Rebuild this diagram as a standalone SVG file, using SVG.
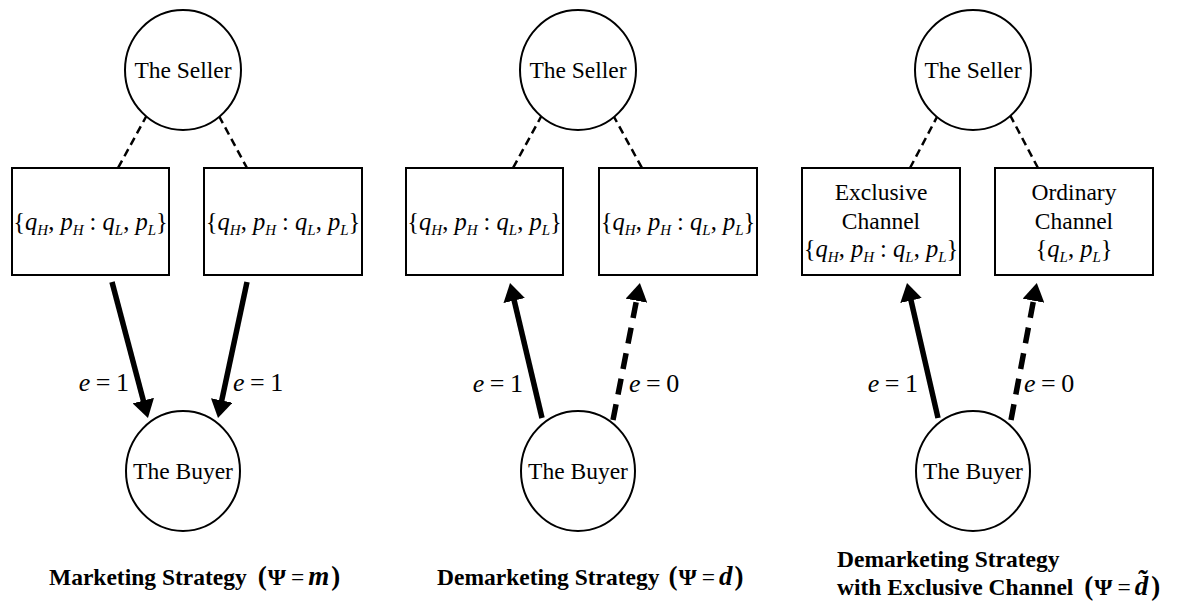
<svg xmlns="http://www.w3.org/2000/svg" width="1180" height="610" viewBox="0 0 1180 610">
<style>
.node{fill:#fff;stroke:#000;stroke-width:2}
.t{font-family:"Liberation Serif","Times New Roman",serif;font-size:23.5px;fill:#000}
.f{font-family:"Liberation Serif","Times New Roman",serif;font-size:24.5px;fill:#000}
.e{font-family:"Liberation Serif","Times New Roman",serif;font-size:26px;fill:#000;word-spacing:-1px}
.i{font-style:italic}
.s{font-size:15px;font-style:italic}
.cap{font-family:"Liberation Serif","Times New Roman",serif;font-size:23.5px;font-weight:bold;fill:#000}
.sd{stroke:#000;stroke-width:2.5;stroke-dasharray:8,5;fill:none}
.a{stroke:#000;stroke-width:5.5;fill:none}
.ad{stroke:#000;stroke-width:5.5;fill:none;stroke-dasharray:16,10}
</style>
<defs>
<marker id="ah" viewBox="0 0 18 22" refX="6" refY="11" markerWidth="18" markerHeight="22" markerUnits="userSpaceOnUse" orient="auto">
<path d="M0,0 L18,11 L0,22 z" fill="#000"/>
</marker>
</defs>

<g id="connectors">
<line class="sd" x1="147" y1="115" x2="118" y2="168"/>
<line class="sd" x1="219" y1="116" x2="247" y2="168"/>
<line class="sd" x1="542" y1="115" x2="513" y2="168"/>
<line class="sd" x1="613" y1="115" x2="642" y2="168"/>
<line class="sd" x1="938" y1="115" x2="910" y2="168"/>
<line class="sd" x1="1010" y1="115" x2="1038" y2="168"/>
<line class="a" x1="112" y1="282" x2="144.9" y2="406.4" marker-end="url(#ah)"/>
<line class="a" x1="247" y1="282" x2="220.5" y2="406.3" marker-end="url(#ah)"/>
<line class="a" x1="542" y1="418" x2="512.8" y2="294.7" marker-end="url(#ah)"/>
<line class="ad" x1="613" y1="420" x2="637.6" y2="294.8" marker-end="url(#ah)"/>
<line class="a" x1="938" y1="418" x2="909.7" y2="294.7" marker-end="url(#ah)"/>
<line class="ad" x1="1011" y1="420" x2="1034.6" y2="294.8" marker-end="url(#ah)"/>
<text class="e" x="129" y="391" text-anchor="end"><tspan class="i">e</tspan> = 1</text>
<text class="e" x="233" y="391"><tspan class="i">e</tspan> = 1</text>
<text class="e" x="523" y="392" text-anchor="end"><tspan class="i">e</tspan> = 1</text>
<text class="e" x="629" y="392"><tspan class="i">e</tspan> = 0</text>
<text class="e" x="918" y="392" text-anchor="end"><tspan class="i">e</tspan> = 1</text>
<text class="e" x="1024" y="392"><tspan class="i">e</tspan> = 0</text>
</g>

<g id="seller1"><ellipse class="node" cx="183" cy="70" rx="58" ry="60"/><text class="t" x="183" y="78" text-anchor="middle">The Seller</text></g>
<g id="seller2"><ellipse class="node" cx="578" cy="70" rx="58" ry="60"/><text class="t" x="578" y="78" text-anchor="middle">The Seller</text></g>
<g id="seller3"><ellipse class="node" cx="973" cy="70" rx="58" ry="60"/><text class="t" x="973" y="78" text-anchor="middle">The Seller</text></g>

<g id="buyer1"><ellipse class="node" cx="183" cy="471" rx="57" ry="60"/><text class="t" x="183" y="479" text-anchor="middle">The Buyer</text></g>
<g id="buyer2"><ellipse class="node" cx="578" cy="471" rx="57" ry="60"/><text class="t" x="578" y="479" text-anchor="middle">The Buyer</text></g>
<g id="buyer3"><ellipse class="node" cx="973" cy="471" rx="57" ry="60"/><text class="t" x="973" y="479" text-anchor="middle">The Buyer</text></g>

<g id="box1"><rect class="node" x="12" y="168" width="157" height="107"/>
<text class="f" x="90.5" y="230" text-anchor="middle">{<tspan class="i">q</tspan><tspan class="s" dy="5">H</tspan><tspan dy="-5">, </tspan><tspan class="i">p</tspan><tspan class="s" dy="5">H</tspan><tspan dy="-5"> : </tspan><tspan class="i">q</tspan><tspan class="s" dy="5">L</tspan><tspan dy="-5">, </tspan><tspan class="i">p</tspan><tspan class="s" dy="5">L</tspan><tspan dy="-5">}</tspan></text></g>
<g id="box2"><rect class="node" x="204" y="168" width="158" height="107"/>
<text class="f" x="283" y="230" text-anchor="middle">{<tspan class="i">q</tspan><tspan class="s" dy="5">H</tspan><tspan dy="-5">, </tspan><tspan class="i">p</tspan><tspan class="s" dy="5">H</tspan><tspan dy="-5"> : </tspan><tspan class="i">q</tspan><tspan class="s" dy="5">L</tspan><tspan dy="-5">, </tspan><tspan class="i">p</tspan><tspan class="s" dy="5">L</tspan><tspan dy="-5">}</tspan></text></g>
<g id="box3"><rect class="node" x="406" y="168" width="157" height="107"/>
<text class="f" x="484.5" y="230" text-anchor="middle">{<tspan class="i">q</tspan><tspan class="s" dy="5">H</tspan><tspan dy="-5">, </tspan><tspan class="i">p</tspan><tspan class="s" dy="5">H</tspan><tspan dy="-5"> : </tspan><tspan class="i">q</tspan><tspan class="s" dy="5">L</tspan><tspan dy="-5">, </tspan><tspan class="i">p</tspan><tspan class="s" dy="5">L</tspan><tspan dy="-5">}</tspan></text></g>
<g id="box4"><rect class="node" x="599" y="168" width="158" height="107"/>
<text class="f" x="678" y="230" text-anchor="middle">{<tspan class="i">q</tspan><tspan class="s" dy="5">H</tspan><tspan dy="-5">, </tspan><tspan class="i">p</tspan><tspan class="s" dy="5">H</tspan><tspan dy="-5"> : </tspan><tspan class="i">q</tspan><tspan class="s" dy="5">L</tspan><tspan dy="-5">, </tspan><tspan class="i">p</tspan><tspan class="s" dy="5">L</tspan><tspan dy="-5">}</tspan></text></g>
<g id="box5"><rect class="node" x="802" y="168" width="158" height="107"/>
<text class="t" x="881" y="200" text-anchor="middle">Exclusive</text>
<text class="t" x="881" y="229" text-anchor="middle">Channel</text>
<text class="f" x="881" y="257" text-anchor="middle">{<tspan class="i">q</tspan><tspan class="s" dy="5">H</tspan><tspan dy="-5">, </tspan><tspan class="i">p</tspan><tspan class="s" dy="5">H</tspan><tspan dy="-5"> : </tspan><tspan class="i">q</tspan><tspan class="s" dy="5">L</tspan><tspan dy="-5">, </tspan><tspan class="i">p</tspan><tspan class="s" dy="5">L</tspan><tspan dy="-5">}</tspan></text></g>
<g id="box6"><rect class="node" x="995" y="168" width="158" height="107"/>
<text class="t" x="1074" y="200" text-anchor="middle">Ordinary</text>
<text class="t" x="1074" y="229" text-anchor="middle">Channel</text>
<text class="f" x="1074" y="257" text-anchor="middle">{<tspan class="i">q</tspan><tspan class="s" dy="5">L</tspan><tspan dy="-5">, </tspan><tspan class="i">p</tspan><tspan class="s" dy="5">L</tspan><tspan dy="-5">}</tspan></text></g>

<g id="captions">
<text class="cap" x="49" y="585">Marketing Strategy <tspan font-size="27" dx="5">(</tspan><tspan dx="1">Ψ</tspan><tspan font-weight="normal" dx="5">=</tspan><tspan font-style="italic" font-size="27" dx="4">m</tspan><tspan font-size="27" dx="2">)</tspan></text>
<text class="cap" x="437" y="585">Demarketing Strategy <tspan font-size="27" dx="3">(</tspan><tspan dx="1">Ψ</tspan><tspan font-weight="normal" dx="5">=</tspan><tspan font-style="italic" font-size="27" dx="4">d</tspan><tspan font-size="27" dx="2">)</tspan></text>
<text class="cap" x="837" y="567">Demarketing Strategy</text>
<text class="cap" x="837" y="595">with Exclusive Channel <tspan font-size="27" dx="5">(</tspan><tspan dx="1">Ψ</tspan><tspan font-weight="normal" dx="5">=</tspan><tspan font-style="italic" font-size="27" dx="4">d̃</tspan><tspan font-size="27" dx="3">)</tspan></text>
</g>
</svg>
